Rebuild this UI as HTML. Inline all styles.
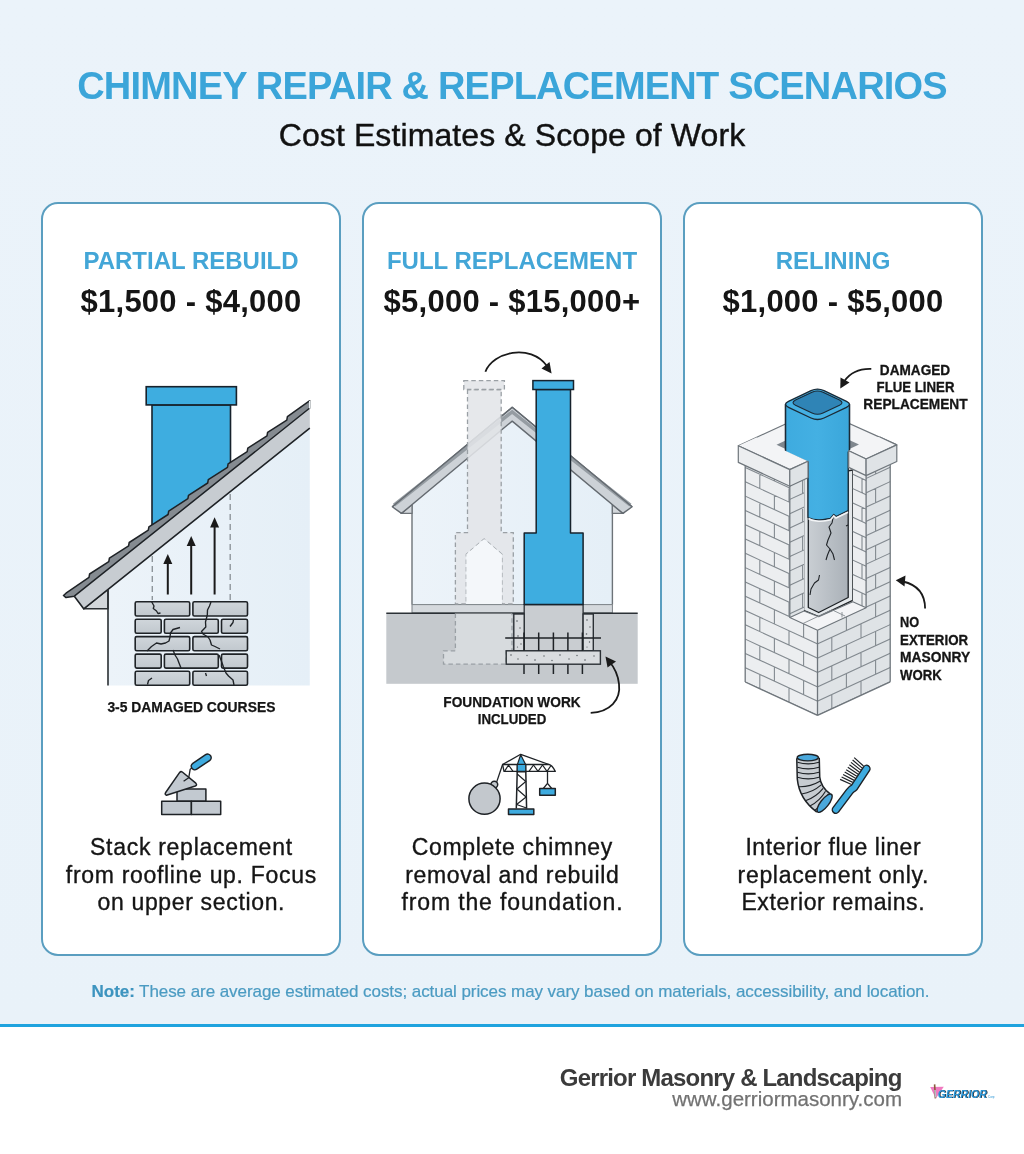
<!DOCTYPE html>
<html>
<head>
<meta charset="utf-8">
<style>
html,body{margin:0;padding:0;}
body{width:1024px;height:1154px;overflow:hidden;position:relative;background:#fff;font-family:"Liberation Sans",Arial,sans-serif;}
#top{position:absolute;left:0;top:0;width:1024px;height:1024px;background:linear-gradient(180deg,#ebf3fa 0%,#e9f2f9 100%);}
#rule{position:absolute;left:0;top:1024px;width:1024px;height:3px;background:#1fa3de;}
.t{position:absolute;white-space:nowrap;line-height:1;}
.c{text-align:center;}
#title{left:0;width:1024px;top:66.8px;font-size:38px;font-weight:bold;color:#3ba5d9;letter-spacing:-0.8px;}
#sub{left:0;width:1024px;top:118.8px;font-size:32px;color:#111;letter-spacing:0.1px;-webkit-text-stroke:0.4px #111;}
.card{position:absolute;top:202px;width:296px;height:750px;border:2px solid #5a9ec0;border-radius:17px;background:#fff;}
.hd{font-size:24px;font-weight:bold;color:#43a6d7;}
.pr{font-size:31px;font-weight:bold;color:#151515;letter-spacing:0.25px;}
.bd{font-size:23px;color:#151515;-webkit-text-stroke:0.35px #151515;}
svg{position:absolute;left:0;top:0;overflow:visible;}
#note{left:0;width:1021px;top:982.6px;font-size:17px;color:#4b9bc2;letter-spacing:-0.065px;-webkit-text-stroke:0.2px #4b9bc2;}
#note b{color:#3d94bf;-webkit-text-stroke:0.2px #3d94bf;}
#brand{left:0;width:901.5px;text-align:right;top:1066px;font-size:24px;font-weight:bold;color:#3b3b3b;letter-spacing:-0.82px;}
#url{left:0;width:902px;text-align:right;top:1089.3px;font-size:20.5px;color:#727272;-webkit-text-stroke:0.25px #727272;}
</style>
</head>
<body>
<div id="top"></div>
<div id="rule"></div>
<div class="t c" id="title">CHIMNEY REPAIR &amp; REPLACEMENT SCENARIOS</div>
<div class="t c" id="sub">Cost Estimates &amp; Scope of Work</div>

<div class="card" style="left:41px"></div>
<div class="card" style="left:362px"></div>
<div class="card" style="left:683px"></div>

<!-- headings -->
<div class="t c hd" style="left:41px;width:300px;top:249px">PARTIAL REBUILD</div>
<div class="t c hd" style="left:362px;width:300px;top:249px">FULL REPLACEMENT</div>
<div class="t c hd" style="left:683px;width:300px;top:249px">RELINING</div>
<div class="t c pr" style="left:41px;width:300px;top:285.8px">$1,500 - $4,000</div>
<div class="t c pr" style="left:362px;width:300px;top:285.8px">$5,000 - $15,000+</div>
<div class="t c pr" style="left:683px;width:300px;top:285.8px">$1,000 - $5,000</div>

<!-- body texts -->
<div class="t c bd" style="left:41px;width:300px;top:835.8px;letter-spacing:0.725px;text-indent:0.725px">Stack replacement</div>
<div class="t c bd" style="left:41px;width:300px;top:863.7px;letter-spacing:0.686px;text-indent:0.686px">from roofline up. Focus</div>
<div class="t c bd" style="left:41px;width:300px;top:891.3px;letter-spacing:0.66px;text-indent:0.66px">on upper section.</div>
<div class="t c bd" style="left:362px;width:300px;top:835.8px;letter-spacing:0.68px;text-indent:0.68px">Complete chimney</div>
<div class="t c bd" style="left:362px;width:300px;top:863.7px;letter-spacing:0.633px;text-indent:0.633px">removal and rebuild</div>
<div class="t c bd" style="left:362px;width:300px;top:891.3px;letter-spacing:0.868px;text-indent:0.868px">from the foundation.</div>
<div class="t c bd" style="left:683px;width:300px;top:835.8px;letter-spacing:0.572px;text-indent:0.572px">Interior flue liner</div>
<div class="t c bd" style="left:683px;width:300px;top:863.7px;letter-spacing:0.69px;text-indent:0.69px">replacement only.</div>
<div class="t c bd" style="left:683px;width:300px;top:891.3px;letter-spacing:0.58px;text-indent:0.58px">Exterior remains.</div>

<div class="t c" id="note"><b>Note:</b> These are average estimated costs; actual prices may vary based on materials, accessibility, and location.</div>
<div class="t" id="brand">Gerrior Masonry &amp; Landscaping</div>
<div class="t" id="url">www.gerriormasonry.com</div>

<svg width="1024" height="1154" viewBox="0 0 1024 1154">
<defs>
<linearGradient id="wall1" x1="0" y1="0" x2="1" y2="0"><stop offset="0" stop-color="#ecf3f9"/><stop offset="1" stop-color="#e5eff7"/></linearGradient>
<linearGradient id="brk" x1="0" y1="0" x2="0" y2="1"><stop offset="0" stop-color="#d0d6db"/><stop offset="1" stop-color="#c1c8ce"/></linearGradient>
</defs>
<!-- ===== ILLUSTRATION 1 : partial rebuild ===== -->
<g id="ill1">
<polygon points="108,589.3 309.8,427.7 309.8,685.5 108,685.5" fill="url(#wall1)"/>
<!-- chimney stack -->
<polygon points="152,404.9 230.5,404.9 230.5,472 152,535" fill="#3eade0" stroke="#17222c" stroke-width="1.6"/>
<rect x="146.2" y="386.7" width="90.2" height="18.2" fill="#3eade0" stroke="#17222c" stroke-width="1.6"/>
<!-- soffit -->
<polygon points="83.7,608.8 108,608.8 108,589.3" fill="#d3d7db" stroke="#2a2f33" stroke-width="1.4" stroke-linejoin="round"/>
<!-- fascia -->
<polygon points="74.3,596.2 309.8,408 309.8,428.1 83.7,608.8" fill="#c7ccd1"/>
<path d="M74.3,596.2 L83.7,608.8 L309.8,428.1" fill="none" stroke="#1e2226" stroke-width="1.6" stroke-linejoin="round"/>
<!-- shingles -->
<polygon points="309.8,400.7 287.4,416.7 286.8,420.1 267.6,432.4 267.0,435.8 247.8,448.2 247.2,451.6 228.1,463.9 227.5,467.3 208.3,479.6 207.7,483.0 188.5,495.3 187.9,498.7 168.7,511.1 168.1,514.5 148.9,526.8 148.3,530.2 129.2,542.5 128.6,545.9 109.4,558.2 108.8,561.6 89.6,574.0 89.0,577.4 66.0,593.2 63.5,595.5 66,597.6 74.3,596.2 309.8,408" fill="#858b91" stroke="#1e2226" stroke-width="1.5" stroke-linejoin="round"/>
<line x1="309.8" y1="400.7" x2="309.8" y2="408.5" stroke="#eef3f7" stroke-width="1.6"/>
<!-- wall line -->
<line x1="108" y1="589.3" x2="108" y2="685.5" stroke="#2a2f33" stroke-width="1.6"/>
<!-- dashed guides -->
<line x1="152.3" y1="556" x2="152.3" y2="600" stroke="#8e959b" stroke-width="1.4" stroke-dasharray="6,4"/>
<line x1="230.2" y1="494" x2="230.2" y2="600" stroke="#8e959b" stroke-width="1.4" stroke-dasharray="6,4"/>
<!-- arrows -->
<g stroke="#1a1a1a" stroke-width="2" fill="#1a1a1a">
<line x1="167.8" y1="594.5" x2="167.8" y2="562"/><polygon points="167.8,554 163.3,564 172.3,564" stroke="none"/>
<line x1="191.2" y1="594.5" x2="191.2" y2="544"/><polygon points="191.2,535.9 186.7,546 195.7,546" stroke="none"/>
<line x1="214.6" y1="594.5" x2="214.6" y2="525"/><polygon points="214.6,517.2 210.1,527.4 219.1,527.4" stroke="none"/>
</g>
<!-- bricks -->
<g fill="url(#brk)" stroke="#1f2327" stroke-width="1.6">
<rect x="135.2" y="601.7" width="54.5" height="14.3" rx="1.5"/><rect x="192.9" y="601.7" width="54.6" height="14.3" rx="1.5"/>
<rect x="135.2" y="619.2" width="26" height="14" rx="1.5"/><rect x="164.4" y="619.2" width="53.9" height="14" rx="1.5"/><rect x="221.5" y="619.2" width="26" height="14" rx="1.5"/>
<rect x="135.2" y="636.6" width="54.5" height="14.1" rx="1.5"/><rect x="192.9" y="636.6" width="54.6" height="14.1" rx="1.5"/>
<rect x="135.2" y="654.1" width="26" height="14" rx="1.5"/><rect x="164.4" y="654.1" width="53.9" height="14" rx="1.5"/><rect x="221.5" y="654.1" width="26" height="14" rx="1.5"/>
<rect x="135.2" y="671.2" width="54.5" height="14" rx="1.5"/><rect x="192.9" y="671.2" width="54.6" height="14" rx="1.5"/>
</g>
<!-- cracks -->
<g fill="none" stroke="#1f2327" stroke-width="1.35" stroke-linejoin="round">
<path d="M151.5,601.5 L154,606 L153.3,608.5 L156.5,611 L158,613.5 L160.5,613"/>
<path d="M211,602 L209.5,606 L207.5,610 L207.3,615 L205.5,622 L205.8,627 L201.5,631.5 L203,634 L208,637 L210,640 L211.5,645 L215,646.5 L220,649"/>
<path d="M180,627.5 L173,629.5 L170.5,633 L170,637 L169,641 L165.5,643 L161,644 L156.5,643 L151.5,646.5 L147,651"/>
<path d="M233.5,619.5 L233,622.5 L230,626.5"/>
<path d="M173,650 L175,655 L177.5,659 L179,663 L181,668"/>
<path d="M219,655 L221,660 L223.5,667 L226,673 L228.5,676 L233,680 L234,685"/>
<path d="M152,678 L148.5,680.5 L147.5,684.5"/>
<path d="M205.5,673 L206.5,676"/>
</g>
<text x="191.4" y="712" font-family="Liberation Sans, Arial, sans-serif" font-weight="bold" font-size="14.4" fill="#151515" stroke="#151515" stroke-width="0.25" text-anchor="middle" textLength="168" lengthAdjust="spacingAndGlyphs">3-5 DAMAGED COURSES</text>
</g>
<!-- ===== ILLUSTRATION 2 : full replacement ===== -->
<g id="ill2">
<!-- house wall -->
<polygon points="412,504.6 512.2,421.1 612.4,504.6 612.4,604.6 412,604.6" fill="url(#wall1)"/>
<line x1="412" y1="504.6" x2="412" y2="604.6" stroke="#6d7378" stroke-width="1.4"/>
<line x1="612.4" y1="504.6" x2="612.4" y2="604.6" stroke="#6d7378" stroke-width="1.4"/>
<!-- roof -->
<polygon points="401.5,513.4 412,513.4 412,504.6" fill="#d3d7db" stroke="#6d7378" stroke-width="1.2"/>
<polygon points="622.9,513.4 612.4,513.4 612.4,504.6" fill="#d3d7db" stroke="#6d7378" stroke-width="1.2"/>
<polygon points="392.3,506.8 512.2,407.3 632.1,506.8 622.9,513.4 512.2,421.1 401.5,513.4" fill="#cdd2d7" stroke="#646a70" stroke-width="1.4" stroke-linejoin="round"/>
<polyline points="394,505.2 512.2,411.8 630.4,505.2" fill="none" stroke="#959ca2" stroke-width="3.4"/><polyline points="392.3,506.8 512.2,407.3 632.1,506.8" fill="none" stroke="#646a70" stroke-width="1.3" stroke-linejoin="round"/>
<!-- sill / ground -->
<rect x="412" y="604.6" width="200.4" height="8.2" fill="#d5d9dd" stroke="#7a8085" stroke-width="1"/>
<rect x="386.3" y="613.2" width="251.4" height="70.6" fill="#c5c9cd"/>
<line x1="386.3" y1="613.2" x2="637.7" y2="613.2" stroke="#2b3035" stroke-width="1.6"/>
<!-- ghost chimney -->
<g fill="#e2e5e8" fill-opacity="0.88" stroke="#9aa0a5" stroke-width="1.3" stroke-dasharray="4.5,3">
<path d="M467.5,389.5 L467.5,532.7 L455.4,532.7 L455.4,604 L466.3,604 L466.3,554.3 L484.1,539 L501.9,554.3 L501.9,604 L513.3,604 L513.3,532.7 L501.2,532.7 L501.2,389.5 Z"/>
<rect x="463.8" y="380.6" width="40.6" height="8.9"/>
<path d="M455.4,613.5 L455.4,650.8 L443.5,650.8 L443.5,664.2 L506.2,664.2 L506.2,650.8 L512,650.8 L512,613.5" fill="#d9dde0"/>
</g>
<path d="M466.3,604 L466.3,554.3 L484.1,539 L501.9,554.3 L501.9,604 Z" fill="#f4f7fa" stroke="none"/>
<!-- new chimney below ground -->
<rect x="524.2" y="604.6" width="58.9" height="46.2" fill="#c9cdd1" stroke="#2b3035" stroke-width="1.3"/>
<g fill="#d9dcdf" stroke="#2b3035" stroke-width="1.4">
<rect x="513.8" y="614" width="10.4" height="36.8"/>
<rect x="583.1" y="614" width="10.2" height="36.8"/>
<rect x="506.2" y="650.8" width="94.2" height="13.4"/>
</g>
<g fill="#555b60">
<circle cx="517" cy="621" r="0.8"/><circle cx="520" cy="628" r="0.7"/><circle cx="518" cy="636" r="0.8"/><circle cx="521" cy="644" r="0.7"/><circle cx="517.5" cy="647" r="0.6"/>
<circle cx="587" cy="620" r="0.8"/><circle cx="590" cy="627" r="0.7"/><circle cx="586.5" cy="634" r="0.8"/><circle cx="589.5" cy="642" r="0.7"/><circle cx="587" cy="647" r="0.6"/>
<circle cx="511" cy="655" r="0.8"/><circle cx="518" cy="659" r="0.7"/><circle cx="527" cy="655.5" r="0.7"/><circle cx="535" cy="660" r="0.8"/><circle cx="544" cy="656" r="0.7"/><circle cx="552" cy="660.5" r="0.7"/><circle cx="560" cy="655" r="0.8"/><circle cx="569" cy="659" r="0.7"/><circle cx="577" cy="655.5" r="0.7"/><circle cx="585" cy="660" r="0.8"/><circle cx="594" cy="656" r="0.7"/>
</g>
<g stroke="#1e2226" stroke-width="1.5">
<line x1="505.2" y1="638" x2="601" y2="638"/>
<line x1="524" y1="632.5" x2="524" y2="650.8"/><line x1="538.7" y1="632.5" x2="538.7" y2="650.8"/><line x1="553.4" y1="632.5" x2="553.4" y2="650.8"/><line x1="567.9" y1="632.5" x2="567.9" y2="650.8"/><line x1="582.4" y1="632.5" x2="582.4" y2="650.8"/>
<line x1="524" y1="664.2" x2="524" y2="674"/><line x1="538.7" y1="664.2" x2="538.7" y2="674"/><line x1="553.4" y1="664.2" x2="553.4" y2="674"/><line x1="567.9" y1="664.2" x2="567.9" y2="674"/><line x1="582.4" y1="664.2" x2="582.4" y2="674"/>
</g>
<!-- new blue chimney -->
<path d="M536.2,389.5 L536.2,533 L524.2,533 L524.2,604.6 L583.1,604.6 L583.1,533 L570.5,533 L570.5,389.5 Z" fill="#3eade0" stroke="#17222c" stroke-width="1.5" stroke-linejoin="round"/>
<rect x="532.9" y="380.6" width="40.6" height="8.9" fill="#3eade0" stroke="#17222c" stroke-width="1.5"/>
<!-- top arc arrow -->
<path d="M485.4,371.7 C493,352 530,343 547,366" fill="none" stroke="#1a1a1a" stroke-width="1.8"/>
<polygon points="551.6,373.5 541.5,368.5 549.5,362" fill="#1a1a1a"/>
<!-- foundation arrow -->
<path d="M590.7,712.9 C610,712 621,700 619,684 C618,674 614,667 609,661" fill="none" stroke="#1a1a1a" stroke-width="1.8"/>
<polygon points="605.5,656.5 616,661.5 607.5,667.5" fill="#1a1a1a"/>
<g font-family="Liberation Sans, Arial, sans-serif" font-weight="bold" font-size="14.4" fill="#151515" stroke="#151515" stroke-width="0.25" text-anchor="middle">
<text x="512" y="706.9" textLength="137.3" lengthAdjust="spacingAndGlyphs">FOUNDATION WORK</text>
<text x="512" y="724.4" textLength="68.6" lengthAdjust="spacingAndGlyphs">INCLUDED</text>
</g>
</g>
<!-- ILL3START -->
<defs>
<clipPath id="c3L"><polygon points="745.2,465.0 789.8,485.6 789.8,617.5 817.5,630.3 817.5,715.4 745.2,682.0"/></clipPath>
<clipPath id="c3R"><polygon points="817.5,630.3 866.1,607.8 866.1,476.1 890.2,465.0 890.2,681.8 817.5,715.4"/></clipPath>
<clipPath id="c3LI"><polygon points="789.8,485.6 804.0,479.0 804.0,610.9 789.8,617.5"/></clipPath>
<clipPath id="c3RI"><polygon points="852.8,470.0 866.1,476.1 866.1,607.8 852.8,601.7"/></clipPath>
<linearGradient id="liner" x1="0" y1="0" x2="1" y2="0"><stop offset="0" stop-color="#c9ced3"/><stop offset="1" stop-color="#aab1b8"/></linearGradient>
<linearGradient id="tube" x1="0" y1="0" x2="1" y2="0"><stop offset="0" stop-color="#3eabdf"/><stop offset="0.5" stop-color="#44b0e3"/><stop offset="1" stop-color="#3aa6da"/></linearGradient>
</defs>
<g id="ill3">
<polygon points="738.3,445.8 817.5,409.3 896.8,444.9 866.1,459.0 848.7,450.8 808.0,461.2 789.8,469.6" fill="#f3f4f6" stroke="#6f767c" stroke-width="1.2" stroke-linejoin="round"/>
<polygon points="776.5,444.8 817.5,425.5 859.0,444.5 817.5,464.0" fill="#7f878e"/>
<polygon points="803.5,478.5 852.8,470.0 852.8,600.4 818.7,616.8 803.5,610.4" fill="#e4e8eb" stroke="#1e2226" stroke-width="1.5" stroke-linejoin="round"/>
<polygon points="808.3,476.0 848.2,470.0 848.2,597.5 818.7,612.5 808.3,607.5" fill="url(#liner)" stroke="#1e2226" stroke-width="1.3" stroke-linejoin="round"/>
<path d="M833.5,516 L832,523 L829,527 L831,533 L828,540 L826.5,545 L830,549 L827.5,555 L826,560 M830,549 L833,554 L834.5,560 M819.5,575 L818.5,580 L814.5,583 L811,589 L810,595 M848,525 L846,526" stroke="#1e2226" stroke-width="1.1" fill="none" stroke-linejoin="round"/>
<path d="M785.5,404.3 L785.5,452 L808,462 L808,517.5 C812,519.5 820,520.5 827,519 L830.5,518.3 L833.8,514.5 L836,516.5 L848.2,510.5 L848.2,452 L849.5,451 L849.5,404.3 Z" fill="url(#tube)" stroke="#1b2a36" stroke-width="1.3" stroke-linejoin="round"/>
<path d="M808.5,518.5 C812,521 820,522 827,520.5 L830.5,519.8 L833.8,516 L836,518 L848,512.2" stroke="#f2f4f6" stroke-width="1.6" fill="none"/>
<path d="M788.5,401.3 L811,390.6 Q817.5,387.5 824,390.6 L846.5,401.3 Q852.5,404.3 846.5,407.3 L824,418 Q817.5,421 811,418 L788.5,407.3 Q782.5,404.3 788.5,401.3 Z" fill="#44b0e3" stroke="#1b2a36" stroke-width="1.3"/>
<path d="M795.5,400 L812,392.3 Q817.5,389.8 823,392.3 L839.5,400 Q844.5,402.7 839.5,405.3 L823,413 Q817.5,415.5 812,413 L795.5,405.3 Q790.5,402.7 795.5,400 Z" fill="#2f84b6" stroke="#1b2a36" stroke-width="1.1"/>
<path d="M785.5,404.3 L785.5,452 M849.5,404.3 L849.5,451" stroke="#1b2a36" stroke-width="1.3"/>
<g clip-path="url(#c3L)"><rect x="743.2" y="380" width="76.29999999999995" height="340" fill="#eceef0"/><path d="M740.2,679.7L822.5,717.7M759.8,688.7L759.8,674.4M789.0,702.2L789.0,687.9M740.2,665.4L822.5,703.4M774.4,681.2L774.4,666.9M803.6,694.7L803.6,680.4M740.2,651.1L822.5,689.1M759.8,660.1L759.8,645.8M789.0,673.6L789.0,659.3M740.2,636.8L822.5,674.8M774.4,652.6L774.4,638.3M803.6,666.1L803.6,651.8M740.2,622.5L822.5,660.5M759.8,631.5L759.8,617.2M789.0,645.0L789.0,630.7M740.2,608.2L822.5,646.2M774.4,624.0L774.4,609.7M803.6,637.5L803.6,623.2M740.2,593.9L822.5,631.9M759.8,602.9L759.8,588.6M789.0,616.4L789.0,602.1M740.2,579.6L822.5,617.6M774.4,595.4L774.4,581.1M803.6,608.9L803.6,594.6M740.2,565.3L822.5,603.3M759.8,574.3L759.8,560.0M789.0,587.8L789.0,573.5M740.2,551.0L822.5,589.0M774.4,566.8L774.4,552.5M803.6,580.3L803.6,566.0M740.2,536.7L822.5,574.7M759.8,545.7L759.8,531.4M789.0,559.2L789.0,544.9M740.2,522.4L822.5,560.4M774.4,538.2L774.4,523.9M803.6,551.7L803.6,537.4M740.2,508.1L822.5,546.1M759.8,517.1L759.8,502.8M789.0,530.6L789.0,516.3M740.2,493.8L822.5,531.8M774.4,509.6L774.4,495.3M803.6,523.1L803.6,508.8M740.2,479.5L822.5,517.5M759.8,488.5L759.8,474.2M789.0,502.0L789.0,487.7M740.2,465.2L822.5,503.2M774.4,481.0L774.4,466.7M803.6,494.5L803.6,480.2M740.2,450.9L822.5,488.9M759.8,459.9L759.8,445.6M789.0,473.4L789.0,459.1M740.2,436.6L822.5,474.6M774.4,452.4L774.4,438.1M803.6,465.9L803.6,451.6M740.2,422.3L822.5,460.3M759.8,431.3L759.8,417.0M789.0,444.8L789.0,430.5M740.2,408.0L822.5,446.0M774.4,423.8L774.4,409.5M803.6,437.3L803.6,423.0M740.2,393.7L822.5,431.7M759.8,402.7L759.8,388.4M789.0,416.2L789.0,401.9M740.2,379.4L822.5,417.4M774.4,395.2L774.4,380.9M803.6,408.7L803.6,394.4" stroke="#838a90" stroke-width="1.1" fill="none"/></g><g clip-path="url(#c3R)"><rect x="815.5" y="380" width="76.70000000000005" height="340" fill="#dfe3e6"/><path d="M812.5,717.7L895.2,679.5M861.0,695.3L861.0,681.0M831.8,708.8L831.8,694.5M812.5,703.4L895.2,665.2M875.6,674.3L875.6,660.0M846.4,687.7L846.4,673.4M812.5,689.1L895.2,650.9M861.0,666.7L861.0,652.4M831.8,680.2L831.8,665.9M812.5,674.8L895.2,636.6M875.6,645.7L875.6,631.4M846.4,659.1L846.4,644.8M812.5,660.5L895.2,622.3M861.0,638.1L861.0,623.8M831.8,651.6L831.8,637.3M812.5,646.2L895.2,608.0M875.6,617.1L875.6,602.8M846.4,630.5L846.4,616.2M812.5,631.9L895.2,593.7M861.0,609.5L861.0,595.2M831.8,623.0L831.8,608.7M812.5,617.6L895.2,579.4M875.6,588.5L875.6,574.2M846.4,601.9L846.4,587.6M812.5,603.3L895.2,565.1M861.0,580.9L861.0,566.6M831.8,594.4L831.8,580.1M812.5,589.0L895.2,550.8M875.6,559.9L875.6,545.6M846.4,573.3L846.4,559.0M812.5,574.7L895.2,536.5M861.0,552.3L861.0,538.0M831.8,565.8L831.8,551.5M812.5,560.4L895.2,522.2M875.6,531.3L875.6,517.0M846.4,544.7L846.4,530.4M812.5,546.1L895.2,507.9M861.0,523.7L861.0,509.4M831.8,537.2L831.8,522.9M812.5,531.8L895.2,493.6M875.6,502.7L875.6,488.4M846.4,516.1L846.4,501.8M812.5,517.5L895.2,479.3M861.0,495.1L861.0,480.8M831.8,508.6L831.8,494.3M812.5,503.2L895.2,465.0M875.6,474.1L875.6,459.8M846.4,487.5L846.4,473.2M812.5,488.9L895.2,450.7M861.0,466.5L861.0,452.2M831.8,480.0L831.8,465.7M812.5,474.6L895.2,436.4M875.6,445.5L875.6,431.2M846.4,458.9L846.4,444.6M812.5,460.3L895.2,422.1M861.0,437.9L861.0,423.6M831.8,451.4L831.8,437.1M812.5,446.0L895.2,407.8M875.6,416.9L875.6,402.6M846.4,430.3L846.4,416.0M812.5,431.7L895.2,393.5M861.0,409.3L861.0,395.0M831.8,422.8L831.8,408.5M812.5,417.4L895.2,379.2M875.6,388.3L875.6,374.0M846.4,401.7L846.4,387.4" stroke="#838a90" stroke-width="1.1" fill="none"/></g><g clip-path="url(#c3LI)"><rect x="787.8" y="380" width="18.200000000000045" height="340" fill="#dfe3e6"/><path d="M784.8,730.5L809.0,719.3M802.6,722.3L802.6,708.0M784.8,716.2L809.0,705.0M784.8,701.9L809.0,690.7M802.6,693.7L802.6,679.4M784.8,687.6L809.0,676.4M784.8,673.3L809.0,662.1M802.6,665.1L802.6,650.8M784.8,659.0L809.0,647.8M784.8,644.7L809.0,633.5M802.6,636.5L802.6,622.2M784.8,630.4L809.0,619.2M784.8,616.1L809.0,604.9M802.6,607.9L802.6,593.6M784.8,601.8L809.0,590.6M784.8,587.5L809.0,576.3M802.6,579.3L802.6,565.0M784.8,573.2L809.0,562.0M784.8,558.9L809.0,547.7M802.6,550.7L802.6,536.4M784.8,544.6L809.0,533.4M784.8,530.3L809.0,519.1M802.6,522.1L802.6,507.8M784.8,516.0L809.0,504.8M784.8,501.7L809.0,490.5M802.6,493.5L802.6,479.2M784.8,487.4L809.0,476.2M784.8,473.1L809.0,461.9M802.6,464.9L802.6,450.6M784.8,458.8L809.0,447.6M784.8,444.5L809.0,433.3M802.6,436.3L802.6,422.0M784.8,430.2L809.0,419.0" stroke="#838a90" stroke-width="1.1" fill="none"/></g><g clip-path="url(#c3RI)"><rect x="850.8" y="380" width="17.300000000000068" height="340" fill="#eceef0"/><path d="M847.8,729.4L871.1,740.2M847.8,715.1L871.1,725.9M862.0,721.7L862.0,707.4M847.8,700.8L871.1,711.6M847.8,686.5L871.1,697.3M862.0,693.1L862.0,678.8M847.8,672.2L871.1,683.0M847.8,657.9L871.1,668.7M862.0,664.5L862.0,650.2M847.8,643.6L871.1,654.4M847.8,629.3L871.1,640.1M862.0,635.9L862.0,621.6M847.8,615.0L871.1,625.8M847.8,600.7L871.1,611.5M862.0,607.3L862.0,593.0M847.8,586.4L871.1,597.2M847.8,572.1L871.1,582.9M862.0,578.7L862.0,564.4M847.8,557.8L871.1,568.6M847.8,543.5L871.1,554.3M862.0,550.1L862.0,535.8M847.8,529.2L871.1,540.0M847.8,514.9L871.1,525.7M862.0,521.5L862.0,507.2M847.8,500.6L871.1,511.4M847.8,486.3L871.1,497.1M862.0,492.9L862.0,478.6M847.8,472.0L871.1,482.8M847.8,457.7L871.1,468.5M862.0,464.3L862.0,450.0M847.8,443.4L871.1,454.2M847.8,429.1L871.1,439.9M862.0,435.7L862.0,421.4" stroke="#838a90" stroke-width="1.1" fill="none"/></g><polygon points="789.8,617.5 817.5,630.3 866.1,607.8 852.8,601.7 818.7,616.8 804.0,610.9" fill="#f3f4f6" stroke="#6f767c" stroke-width="1.1" stroke-linejoin="round"/><path d="M803.0,623.5L832.0,609.8M832.0,609.8L845.0,616.0M842.0,617.5L842.0,612.0" stroke="#838a90" stroke-width="0.9" fill="none"/><path d="M745.2,465.0L745.2,682.0M745.2,682.0L817.5,715.4M817.5,715.4L890.2,681.8M890.2,681.8L890.2,465.0M817.5,630.3L817.5,715.4M789.8,485.6L789.8,617.5M866.1,476.1L866.1,607.8" stroke="#6f767c" stroke-width="1.3" fill="none" stroke-linejoin="round"/>
<polygon points="738.3,445.8 756.5,437.4 808.0,461.2 789.8,469.6" fill="#f3f4f6"/>
<path d="M738.3,445.8L789.8,469.6M789.8,469.6L808.0,461.2" stroke="#6f767c" stroke-width="1.2" fill="none"/>
<polygon points="738.3,445.8 789.8,469.6 789.8,486.2 738.3,462.4" fill="#eceef0" stroke="#6f767c" stroke-width="1.2" stroke-linejoin="round"/>
<polygon points="789.8,469.6 808.0,461.2 808.0,477.8 789.8,486.2" fill="#dfe3e6" stroke="#6f767c" stroke-width="1.2" stroke-linejoin="round"/>
<polygon points="848.7,450.8 879.4,436.7 896.8,444.9 866.1,459.0" fill="#f3f4f6"/>
<path d="M848.7,450.8L866.1,459.0M866.1,459.0L896.8,444.9M896.8,444.9L879.4,436.7" stroke="#6f767c" stroke-width="1.2" fill="none"/>
<polygon points="848.7,450.8 866.1,459.0 866.1,475.6 848.7,467.4" fill="#eceef0" stroke="#6f767c" stroke-width="1.2" stroke-linejoin="round"/>
<polygon points="866.1,459.0 896.8,444.9 896.8,461.5 866.1,475.6" fill="#dfe3e6" stroke="#6f767c" stroke-width="1.2" stroke-linejoin="round"/>
<path d="M871.3,368.9 C860,368.5 850,373 844.5,381" fill="none" stroke="#1a1a1a" stroke-width="1.8"/>
<polygon points="840.3,388.5 840.5,377.5 849.5,382.5" fill="#1a1a1a"/>
<path d="M925.1,608.5 C925,595 918,585 903,581.5" fill="none" stroke="#1a1a1a" stroke-width="1.8"/>
<polygon points="895.8,580.3 905.5,575.5 904.5,586.5" fill="#1a1a1a"/>
<g font-family="Liberation Sans, Arial, sans-serif" font-weight="bold" font-size="14" fill="#151515" stroke="#151515" stroke-width="0.3">
<text x="915" y="374.8" text-anchor="middle" textLength="70.3" lengthAdjust="spacingAndGlyphs">DAMAGED</text>
<text x="915.5" y="391.9" text-anchor="middle" textLength="77.9" lengthAdjust="spacingAndGlyphs">FLUE LINER</text>
<text x="915.5" y="409.2" text-anchor="middle" textLength="104.3" lengthAdjust="spacingAndGlyphs">REPLACEMENT</text>
<text x="900.1" y="626.7" textLength="19.1" lengthAdjust="spacingAndGlyphs">NO</text>
<text x="900.1" y="644.5" textLength="68" lengthAdjust="spacingAndGlyphs">EXTERIOR</text>
<text x="900.1" y="662.4" textLength="70.1" lengthAdjust="spacingAndGlyphs">MASONRY</text>
<text x="900.1" y="679.7" textLength="41.7" lengthAdjust="spacingAndGlyphs">WORK</text>
</g>
</g>
<!-- ILL3END -->
<!-- ICONSTART -->
<g id="icon1" stroke="#1e2226" stroke-width="1.5" stroke-linejoin="round">
<rect x="177" y="789.1" width="28.9" height="12.2" fill="#c2c9d0"/>
<rect x="161.7" y="801.3" width="29.7" height="13.2" fill="#c2c9d0"/>
<rect x="191.4" y="801.3" width="29.3" height="13.2" fill="#c2c9d0"/>
<path d="M166.5,795.2 Q164.5,794.5 165.5,792.8 L179.5,772.6 Q180.8,771 182.3,772 L195.8,783.2 Q197.5,785 195.3,786 Z" fill="#c2c9d0"/>
<path d="M183.6,781.3 L188.7,777.8 L190.2,769.2 L192.5,767.5" fill="none" stroke-width="1.3"/>
<line x1="194.8" y1="766.2" x2="207.6" y2="757.6" stroke-width="8.6" stroke-linecap="round"/>
<line x1="194.8" y1="766.2" x2="207.6" y2="757.6" stroke="#3eabdf" stroke-width="5.6" stroke-linecap="round"/>
</g>
<g id="icon2" stroke="#1e2226" stroke-width="1.5" stroke-linejoin="round" fill="none">
<path d="M496.3,783.1 L502.6,764.5" stroke-width="1.3"/>
<circle cx="494.3" cy="784.6" r="3.4" fill="#c3c8cd"/>
<circle cx="484.5" cy="798.7" r="15.6" fill="#c3c8cd"/>
<path d="M520.7,754.8 L517.4,764.5 L517.2,772 L525.8,772 L525.6,764.5 Z" fill="#3eabdf" stroke-width="1.2"/>
<path d="M517.2,772 L516.3,808.5 M525.8,772 L526.6,808.5" />
<path d="M517.2,774 L525.8,781.5 L516.9,789 L526.1,797 L516.6,804.5 L526.5,808" stroke-width="1.2"/>
<path d="M502.6,764.5 L549,764.5 Q552,765 555.3,771.4 L504,771.4 Z" stroke-width="1.3"/>
<path d="M504.5,771.4 L508.5,765 L513,771.4 M529,771.4 L533.5,765 L538,771.4 L542.5,765 L547,771.4 L551,765.5" stroke-width="1.2"/>
<path d="M502.6,764.5 L520.7,754.3 L549,764.5" stroke-width="1.3"/>
<rect x="517.2" y="764.5" width="8.6" height="6.9" fill="#3eabdf" stroke-width="1.2"/>
<path d="M547.5,771.4 L547.5,783.3 M543.3,788.5 L547.5,783.3 L551.7,788.5" stroke-width="1.3"/>
<rect x="539.7" y="788.5" width="15.6" height="6.8" fill="#3eabdf"/>
<rect x="508.5" y="809" width="25.3" height="5.5" fill="#3eabdf"/>
</g>
<g id="icon3" stroke="#1e2226" stroke-width="1.4" stroke-linejoin="round">
<path d="M808,758 L808.5,778 Q810,793 823.5,803" fill="none" stroke="#1e2226" stroke-width="24" />
<path d="M808,758 L808.5,778 Q810,793 823.5,803" fill="none" stroke="#c7ccd1" stroke-width="21" />
<path d="M819.0,762.3 Q808.2,765.5 797.4,762.3 M819.0,767.3 Q808.2,770.5 797.4,767.3 M819.0,772.3 Q808.2,775.5 797.4,772.3 M819.0,777.3 Q808.2,780.5 797.4,777.3 M819.9,781.3 Q810.2,787.1 799.0,786.8 M821.2,784.9 Q812.7,792.4 801.6,794.0 M823.1,788.3 Q816.1,797.1 805.4,800.7 M825.5,791.3 Q819.9,801.0 809.9,806.1 M828.3,793.9 Q823.9,804.2 814.5,810.5" fill="none" stroke-width="1.1"/>
<ellipse cx="807.8" cy="757.6" rx="10.6" ry="3.3" fill="#4aa8dc"/>
<ellipse cx="824.6" cy="803.2" rx="11.2" ry="4" fill="#4aa8dc" transform="rotate(-52 824.6 803.2)"/>
<path d="M835.8,809.8 L849.5,791.5 Q851.5,789 854,787.8 L866.5,768.8" fill="none" stroke="#1e2226" stroke-width="8.4" stroke-linecap="round" stroke-linejoin="round"/>
<path d="M835.8,809.8 L849.5,791.5 Q851.5,789 854,787.8 L866.5,768.8" fill="none" stroke="#3eabdf" stroke-width="5.6" stroke-linecap="round" stroke-linejoin="round"/>
<path d="M863.5,766.0 L854.2,757.6 M862.2,768.1 L852.6,760.0 M860.8,770.1 L851.0,762.4 M859.5,772.2 L849.4,764.8 M858.2,774.2 L847.8,767.2 M856.8,776.3 L846.2,769.7 M855.5,778.3 L844.7,772.1 M854.2,780.4 L843.1,774.5 M852.8,782.4 L841.6,777.0 M851.5,784.5 L840.1,779.4" fill="none" stroke-width="1.2"/>
</g>
<!-- ICONEND -->
<!-- LOGO -->
<g id="logo">
<polygon points="930.2,1087.1 943.8,1086.7 935.8,1098.6" fill="#f07ac0"/>
<line x1="934.6" y1="1084.4" x2="935.4" y2="1098.4" stroke="#8a5a3c" stroke-width="1.6"/>
<line x1="935" y1="1090" x2="935.6" y2="1097.5" stroke="#b9bec4" stroke-width="1.6"/>
<text x="938.5" y="1098.2" font-family="Liberation Sans, Arial, sans-serif" font-weight="bold" font-style="italic" font-size="11.5" fill="#1c1c1c" textLength="49" lengthAdjust="spacingAndGlyphs">GERRIOR</text>
<text x="937.8" y="1097.6" font-family="Liberation Sans, Arial, sans-serif" font-weight="bold" font-style="italic" font-size="11.5" fill="#2a95d6" textLength="49" lengthAdjust="spacingAndGlyphs">GERRIOR</text>
<text x="988" y="1098.4" font-family="Liberation Sans, Arial, sans-serif" font-size="3" fill="#2a95d6">Corp</text>
</g>
<!-- ILLUSTRATIONS -->
</svg>
</body>
</html>
